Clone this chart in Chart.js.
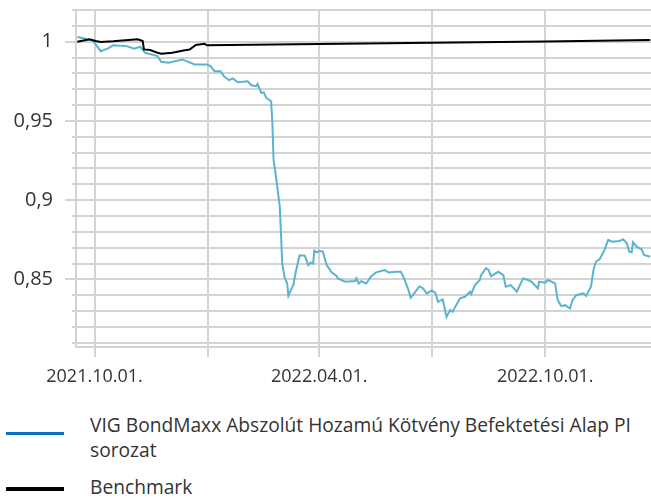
<!DOCTYPE html>
<html>
<head>
<meta charset="utf-8">
<script src="https://cdn.jsdelivr.net/npm/chart.js@4.4.1/dist/chart.umd.min.js"></script>
<style>
  html, body { margin: 0; padding: 0; background: #ffffff; }
  body { width: 651px; height: 498px; overflow: hidden; position: relative; font-family: "Open Sans", sans-serif; }
  #wrap { position: absolute; left: 0; top: 0; width: 651px; height: 390px; }
  #legend { position: absolute; left: 0; top: 412px; width: 651px; color: #333; font-size: 19.2px; line-height: 25px; }
  .item { position: relative; padding-left: 90px; width: 555px; margin-bottom: 12px; }
  .sw { position: absolute; left: 6px; width: 58px; }
</style>
</head>
<body>
<div id="wrap"><canvas id="c" width="651" height="390"></canvas></div>
<div id="legend"></div>
<script>
// ---------- DATA ----------
const seriesNames = [
  "VIG BondMaxx Abszolút Hozamú Kötvény Befektetési Alap PI sorozat",
  "Benchmark"
];
const lineColors = ["#5ab4cf", "#000000"];
const legendColors = ["#0a70be", "#000000"];

const fundDates = [
  "2021-09-17","2021-09-23","2021-09-30","2021-10-06","2021-10-12","2021-10-16","2021-10-27",
  "2021-11-02","2021-11-07","2021-11-11","2021-11-21","2021-11-24","2021-11-30","2021-12-11",
  "2021-12-21","2021-12-31","2022-01-03","2022-01-06","2022-01-11","2022-01-14","2022-01-18",
  "2022-01-21","2022-01-25","2022-02-02","2022-02-05","2022-02-09","2022-02-10","2022-02-13",
  "2022-02-15","2022-02-17","2022-02-21","2022-02-22","2022-02-23","2022-02-25","2022-02-28",
  "2022-03-01","2022-03-02","2022-03-04","2022-03-06","2022-03-07","2022-03-09","2022-03-11",
  "2022-03-13","2022-03-16","2022-03-20","2022-03-21","2022-03-23","2022-03-25","2022-03-27",
  "2022-03-28","2022-03-30","2022-04-01","2022-04-04","2022-04-05","2022-04-07","2022-04-11",
  "2022-04-15","2022-04-16","2022-04-22","2022-04-30","2022-05-01","2022-05-03","2022-05-05",
  "2022-05-09","2022-05-13","2022-05-17","2022-05-24","2022-05-27","2022-06-02","2022-06-06",
  "2022-06-09","2022-06-12","2022-06-14","2022-06-17","2022-06-21","2022-06-24","2022-06-27",
  "2022-07-01","2022-07-04","2022-07-06","2022-07-10","2022-07-13","2022-07-16","2022-07-18",
  "2022-07-20","2022-07-24","2022-07-28","2022-08-01","2022-08-02","2022-08-05","2022-08-09",
  "2022-08-10","2022-08-14","2022-08-16","2022-08-18","2022-08-24","2022-08-28","2022-08-30",
  "2022-09-03","2022-09-08","2022-09-13","2022-09-17","2022-09-20","2022-09-25","2022-09-26",
  "2022-10-01","2022-10-03","2022-10-09","2022-10-11","2022-10-14","2022-10-17","2022-10-21",
  "2022-10-23","2022-10-26","2022-11-01","2022-11-03","2022-11-07","2022-11-09","2022-11-11",
  "2022-11-14","2022-11-18","2022-11-21","2022-11-24","2022-11-30","2022-12-03","2022-12-06",
  "2022-12-08","2022-12-10","2022-12-11","2022-12-14","2022-12-18","2022-12-20","2022-12-25"
];
const fundValues = [
  1.0029,1.0020,1.0004,0.9940,0.9958,0.9977,0.9972,
  0.9956,0.9968,0.9930,0.9909,0.9873,0.9867,0.9888,
  0.9856,0.9856,0.9846,0.9814,0.9814,0.9780,0.9757,
  0.9768,0.9744,0.9750,0.9725,0.9719,0.9734,0.9677,
  0.9680,0.9645,0.9624,0.9487,0.9250,0.9145,0.8960,
  0.8787,0.8597,0.8510,0.8475,0.8396,0.8432,0.8464,
  0.8548,0.8650,0.8650,0.8635,0.8590,0.8605,0.8600,
  0.8680,0.8670,0.8679,0.8675,0.8643,0.8590,0.8545,
  0.8522,0.8506,0.8485,0.8489,0.8506,0.8474,0.8489,
  0.8474,0.8520,0.8544,0.8559,0.8544,0.8548,0.8548,
  0.8500,0.8437,0.8385,0.8413,0.8455,0.8443,0.8410,
  0.8430,0.8415,0.8358,0.8373,0.8263,0.8306,0.8295,
  0.8326,0.8380,0.8390,0.8422,0.8407,0.8464,0.8496,
  0.8527,0.8570,0.8559,0.8520,0.8548,0.8527,0.8453,
  0.8464,0.8422,0.8506,0.8496,0.8485,0.8443,0.8485,
  0.8479,0.8496,0.8474,0.8369,0.8331,0.8337,0.8316,
  0.8369,0.8400,0.8411,0.8394,0.8453,0.8559,0.8611,
  0.8627,0.8686,0.8749,0.8738,0.8742,0.8753,0.8728,
  0.8675,0.8671,0.8734,0.8706,0.8690,0.8654,0.8643
];

const benchDates = [
  "2021-09-17","2021-09-27","2021-10-02","2021-10-06","2021-10-16","2021-11-05","2021-11-09",
  "2021-11-10","2021-11-15","2021-11-21","2021-11-24","2021-12-03","2021-12-12","2021-12-17",
  "2021-12-22","2021-12-29","2021-12-31","2022-04-01","2022-07-01","2022-10-01","2022-12-25"
];
const benchValues = [
  1.0000,1.0015,1.0004,0.9998,1.0002,1.0015,1.0004,
  0.9951,0.9947,0.9930,0.9924,0.9930,0.9945,0.9951,
  0.9979,0.9987,0.9977,0.9985,0.9993,1.0001,1.0010
];

const xRange = ["2021-09-16", "2022-12-25"];
const xGridDates = ["2021-10-01","2022-01-01","2022-04-01","2022-07-01","2022-10-01"];
const xTickLabels = ["2021.10.01.","","2022.04.01.","","2022.10.01."];

const yRange = [0.8073, 1.02];
const yMajorTicks = [0.85, 0.9, 0.95, 1];
const yTickLabels = ["0,85", "0,9", "0,95", "1"];
const yMinorStep = 0.01;

// ---------- HELPERS ----------
function dayNum(s) {
  const p = s.split("-").map(Number);
  return Date.UTC(p[0], p[1] - 1, p[2]) / 86400000;
}
function majorIndex(v) {
  return yMajorTicks.findIndex(m => Math.abs(m - v) < 1e-6);
}
const gridColor = "#d3d3d3";
const textColor = "#333333";

const minorTickPlugin = {
  id: "minorTicks",
  beforeDatasetsDraw(chart) {
    const y = chart.scales.y;
    const ctx = chart.ctx;
    ctx.save();
    ctx.strokeStyle = gridColor;
    ctx.lineWidth = 2;
    y.ticks.forEach(t => {
      if (majorIndex(t.value) < 0) {
        const py = Math.round(y.getPixelForValue(t.value));
        ctx.beginPath();
        ctx.moveTo(y.right - 4, py);
        ctx.lineTo(y.right, py);
        ctx.stroke();
      }
    });
    ctx.restore();
  }
};

const datasets = [
  {
    label: seriesNames[0],
    data: fundDates.map((d, i) => ({ x: dayNum(d), y: fundValues[i] })),
    borderColor: lineColors[0],
    borderWidth: 2,
    pointRadius: 0,
    tension: 0,
    order: 2
  },
  {
    label: seriesNames[1],
    data: benchDates.map((d, i) => ({ x: dayNum(d), y: benchValues[i] })),
    borderColor: lineColors[1],
    borderWidth: 2,
    pointRadius: 0,
    tension: 0,
    order: 1
  }
];

const chart = new Chart(document.getElementById("c"), {
  type: "line",
  data: { datasets },
  plugins: [minorTickPlugin],
  options: {
    responsive: false,
    animation: false,
    events: [],
    layout: { padding: { top: 10, left: 0, right: 0, bottom: 0 } },
    plugins: { legend: { display: false }, tooltip: { enabled: false } },
    scales: {
      x: {
        type: "linear",
        min: dayNum(xRange[0]),
        max: dayNum(xRange[1]) + 0.6,
        afterBuildTicks: s => { s.ticks = xGridDates.map(d => ({ value: dayNum(d) })); },
        afterFit: s => { s.height = 43; s.paddingLeft = 0; s.paddingRight = 0; },
        grid: { color: gridColor, lineWidth: 2, tickLength: 10, tickColor: gridColor, drawTicks: true },
        border: { display: true, color: gridColor, width: 2 },
        ticks: {
          autoSkip: false, maxRotation: 0, padding: 9, color: textColor,
          font: { family: "Open Sans", size: 18 },
          callback: (v) => {
            const i = xGridDates.findIndex(d => Math.abs(dayNum(d) - v) < 0.01);
            return i >= 0 ? xTickLabels[i] : "";
          }
        }
      },
      y: {
        type: "linear",
        min: yRange[0],
        max: yRange[1],
        afterBuildTicks: s => {
          const t = [];
          for (let k = 81; k <= 102; k++) t.push({ value: k * yMinorStep });
          s.ticks = t;
        },
        afterFit: s => { s.width = 76; s.paddingTop = 0; s.paddingBottom = 0; },
        grid: {
          color: gridColor, lineWidth: 2, tickLength: 11,
          tickColor: c => (c.tick && majorIndex(c.tick.value) >= 0) ? gridColor : "rgba(0,0,0,0)"
        },
        border: { display: true, color: gridColor, width: 2 },
        ticks: {
          autoSkip: false, padding: 12, color: textColor,
          font: { family: "Open Sans", size: 20 },
          callback: (v) => {
            const i = majorIndex(v);
            return i >= 0 ? yTickLabels[i] : "";
          }
        }
      }
    }
  }
});

// ---------- HTML legend built from the chart's datasets ----------
const legend = document.getElementById("legend");
chart.data.datasets.forEach((ds, i) => {
  const item = document.createElement("div");
  item.className = "item";
  const sw = document.createElement("span");
  sw.className = "sw";
  sw.style.background = legendColors[i];
  sw.style.height = i === 0 ? "3px" : "4px";
  sw.style.top = i === 0 ? "20px" : "13px";
  const tx = document.createElement("span");
  tx.textContent = ds.label;
  item.appendChild(sw);
  item.appendChild(tx);
  legend.appendChild(item);
});
</script>
</body>
</html>
